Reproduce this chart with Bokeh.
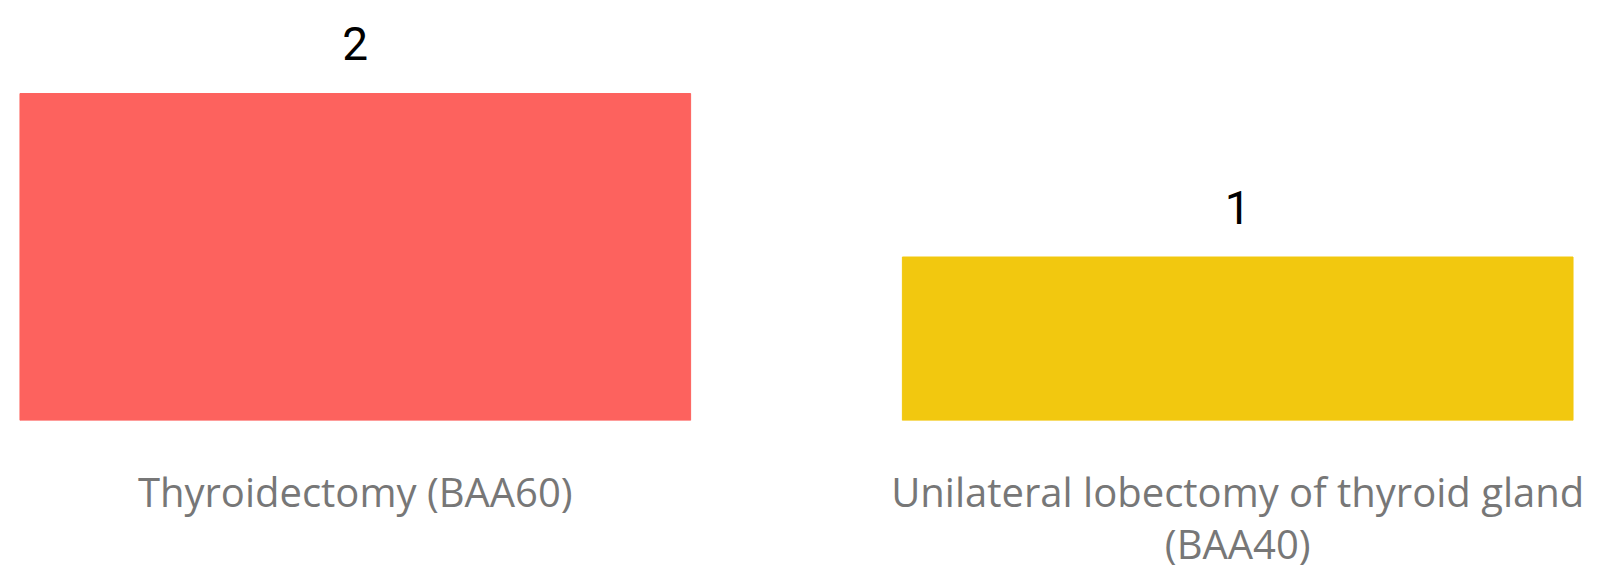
from bokeh.plotting import figure
from bokeh.models import FactorRange, Range1d, ColumnDataSource
from bokeh.core.properties import value
from bokeh.embed import file_html
from bokeh.resources import INLINE

categories = ["Thyroidectomy (BAA60)", "Unilateral lobectomy of thyroid gland\n(BAA40)"]
counts = [2, 1]
colors = ["#FD625E", "#F2C80F"]

src = ColumnDataSource(dict(cat=categories, val=counts, col=colors,
                            lab=[str(v) for v in counts]))

xr = FactorRange(factors=categories, range_padding=-0.107, range_padding_units="absolute")
p = figure(x_range=xr, y_range=Range1d(0, 2.52), width=1584, height=573,
           output_backend="svg", toolbar_location=None,
           min_border_left=8, min_border_right=0, min_border_top=8, min_border_bottom=153)

p.vbar(x="cat", top="val", width=0.76, color="col", source=src)
p.text(x="cat", y="val", text="lab", source=src, y_offset=-50,
       text_align="center", text_baseline="middle",
       text_font=value("Roboto"), text_font_size="46px", text_color="#000000")

p.yaxis.visible = False
p.xgrid.visible = False
p.ygrid.visible = False
p.outline_line_color = None
ax = p.xaxis[0]
ax.axis_line_color = None
ax.major_tick_line_color = None
ax.minor_tick_line_color = None
ax.major_tick_out = 0
ax.major_tick_in = 0
ax.minor_tick_out = 0
ax.minor_tick_in = 0
ax.major_label_standoff = 43
ax.major_label_text_font = "Open Sans"
ax.major_label_text_font_size = "40px"
ax.major_label_text_color = "#777777"
ax.major_label_text_line_height = 0.95

open("out.html", "w").write(file_html(p, INLINE))
